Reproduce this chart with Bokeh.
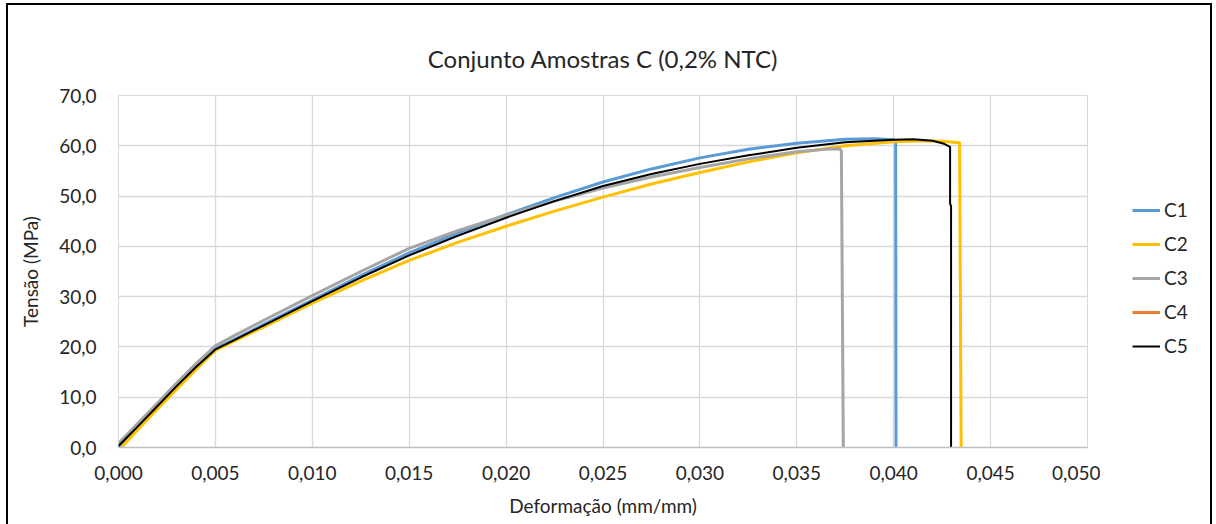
from bokeh.plotting import figure
from bokeh.layouts import row
from bokeh.models import (Range1d, FixedTicker, CustomJSTickFormatter, Legend, LegendItem)
from bokeh.embed import file_html
from bokeh.resources import INLINE

# Stress-strain curves, sample set C (0.2% NTC)
c1_strain = [0.0000, 0.0010, 0.0020, 0.0030, 0.0040, 0.0050, 0.0060, 0.0075, 0.0100, 0.0125,
             0.0150, 0.0175, 0.0200, 0.0225, 0.0250, 0.0275, 0.0300, 0.0325, 0.0350, 0.0375,
             0.0390, 0.0400, 0.04010, 0.04012]
c1_stress = [0.0, 4.0, 8.1, 12.0, 15.9, 19.6, 21.5, 24.5, 29.3, 34.2,
             38.7, 42.7, 46.3, 49.7, 52.8, 55.4, 57.6, 59.3, 60.5, 61.3,
             61.4, 61.2, 60.8, 0.0]

c2_strain = [0.00015, 0.0010, 0.0020, 0.0030, 0.0040, 0.0050, 0.0060, 0.0075, 0.0100, 0.0125,
             0.0150, 0.0175, 0.0200, 0.0225, 0.0250, 0.0275, 0.0300, 0.0325, 0.0350, 0.0375,
             0.0400, 0.0415, 0.0425, 0.0434, 0.04348]
c2_stress = [0.0, 3.6, 7.6, 11.6, 15.5, 19.3, 21.2, 24.0, 28.7, 33.1,
             37.2, 40.8, 44.0, 47.0, 49.8, 52.4, 54.7, 56.8, 58.6, 60.0,
             60.8, 61.0, 60.9, 60.6, 0.0]

c3_strain = [0.0000, 0.0010, 0.0020, 0.0030, 0.0040, 0.0050, 0.0060, 0.0075, 0.0100, 0.0125,
             0.0150, 0.0175, 0.0200, 0.0225, 0.0250, 0.0275, 0.0300, 0.0325, 0.0350, 0.0365,
             0.0372, 0.0373, 0.0374]
c3_stress = [0.8, 4.8, 8.8, 12.8, 16.7, 20.2, 22.3, 25.3, 30.2, 35.0,
             39.6, 43.1, 46.2, 49.0, 51.6, 53.8, 55.7, 57.4, 58.8, 59.3,
             59.4, 59.0, 0.0]

c4_strain = []
c4_stress = []

c5_strain = [0.0000, 0.0010, 0.0020, 0.0030, 0.0040, 0.0050, 0.0060, 0.0075, 0.0100, 0.0125,
             0.0150, 0.0175, 0.0200, 0.0225, 0.0250, 0.0275, 0.0300, 0.0325, 0.0350, 0.0375,
             0.0400, 0.0410, 0.0420, 0.0426, 0.04291, 0.04291, 0.04296, 0.04296]
c5_stress = [0.3, 4.2, 8.2, 12.2, 16.0, 19.5, 21.4, 24.3, 29.1, 33.8,
             38.2, 42.1, 45.7, 49.0, 52.0, 54.4, 56.4, 58.1, 59.6, 60.7,
             61.2, 61.3, 61.0, 60.4, 59.8, 48.5, 48.0, 0.0]

series_names = ["C1", "C2", "C3", "C4", "C5"]
series_colors = ["#5B9BD5", "#FFC000", "#A5A5A5", "#ED7D31", "#000000"]
series_widths = [3, 3, 3, 3, 2]
series_data = [(c1_strain, c1_stress), (c2_strain, c2_stress), (c3_strain, c3_stress),
               (c4_strain, c4_stress), (c5_strain, c5_stress)]

x_ticks = [0.000, 0.005, 0.010, 0.015, 0.020, 0.025, 0.030, 0.035, 0.040, 0.045, 0.050]
y_ticks = [0, 10, 20, 30, 40, 50, 60, 70]

FONT = "Lato"
TEXT = "#262626"
NAN = float("nan")

# main chart panel
p = figure(width=1092, height=519,
           x_range=Range1d(0, 0.05), y_range=Range1d(0, 70),
           output_backend="svg", toolbar_location=None,
           min_border_left=110, min_border_right=13,
           min_border_top=90, min_border_bottom=77,
           title="Conjunto Amostras C (0,2% NTC)")

p.title.align = "center"
p.title.text_font = FONT
p.title.text_font_size = "24px"
p.title.text_font_style = "normal"
p.title.text_color = TEXT
p.title.standoff = 45

p.outline_line_color = "#D9D9D9"
p.background_fill_color = "white"
p.border_fill_color = "white"

p.xaxis.ticker = FixedTicker(ticks=x_ticks)
p.yaxis.ticker = FixedTicker(ticks=y_ticks)
p.xaxis.formatter = CustomJSTickFormatter(code="return tick.toFixed(3).replace('.', ',');")
p.yaxis.formatter = CustomJSTickFormatter(code="return tick.toFixed(1).replace('.', ',');")

for ax in (p.xaxis, p.yaxis):
    ax.major_tick_in = 0
    ax.major_tick_out = 0
    ax.minor_tick_in = 0
    ax.minor_tick_out = 0
    ax.major_label_text_font = FONT
    ax.major_label_text_font_size = "19px"
    ax.major_label_text_color = TEXT
    ax.axis_label_text_font = FONT
    ax.axis_label_text_font_size = "19px"
    ax.axis_label_text_font_style = "normal"
    ax.axis_label_text_color = TEXT

p.xaxis.axis_line_color = "#BFBFBF"
p.xaxis.axis_line_width = 1.5
p.yaxis.axis_line_color = None
p.xaxis.major_label_standoff = 18
p.yaxis.major_label_standoff = 22
p.xaxis.axis_label = "Deformação (mm/mm)"
p.yaxis.axis_label = "Tensão (MPa)"
p.xaxis.axis_label_standoff = 11
p.yaxis.axis_label_standoff = 14

p.xgrid.ticker = FixedTicker(ticks=x_ticks)
p.ygrid.ticker = FixedTicker(ticks=y_ticks)
p.grid.grid_line_color = "#D9D9D9"
p.grid.grid_line_width = 1.3

for color, w, (xs, ys) in zip(series_colors, series_widths, series_data):
    p.line(xs, ys, line_color=color, line_width=w, line_join="round")

# legend panel to the right of the chart
lg = figure(width=110, height=519, x_range=Range1d(0, 1), y_range=Range1d(0, 1),
            output_backend="svg", toolbar_location=None,
            x_axis_location=None, y_axis_location=None, min_border=0)
lg.grid.visible = False
lg.outline_line_color = None
lg.background_fill_color = "white"
lg.border_fill_color = "white"

items = []
for name, color, w in zip(series_names, series_colors, series_widths):
    proxy = lg.line([NAN], [NAN], line_color=color, line_width=w)
    items.append(LegendItem(label=name, renderers=[proxy]))

legend = Legend(items=items, location=(32, 90), padding=0, margin=0, spacing=11,
                glyph_width=28, glyph_height=20, label_height=20, label_standoff=4,
                label_text_font=FONT, label_text_font_size="19px",
                label_text_color=TEXT, border_line_color=None,
                background_fill_alpha=0)
lg.add_layout(legend, "center")

chart = row(p, lg, spacing=0)
chart.styles = {"margin-left": "6px", "margin-top": "3px",
                "border-left": "2px solid black", "border-top": "2px solid black",
                "border-right": "2px solid black"}

open("out.html", "w").write(file_html(chart, INLINE))
